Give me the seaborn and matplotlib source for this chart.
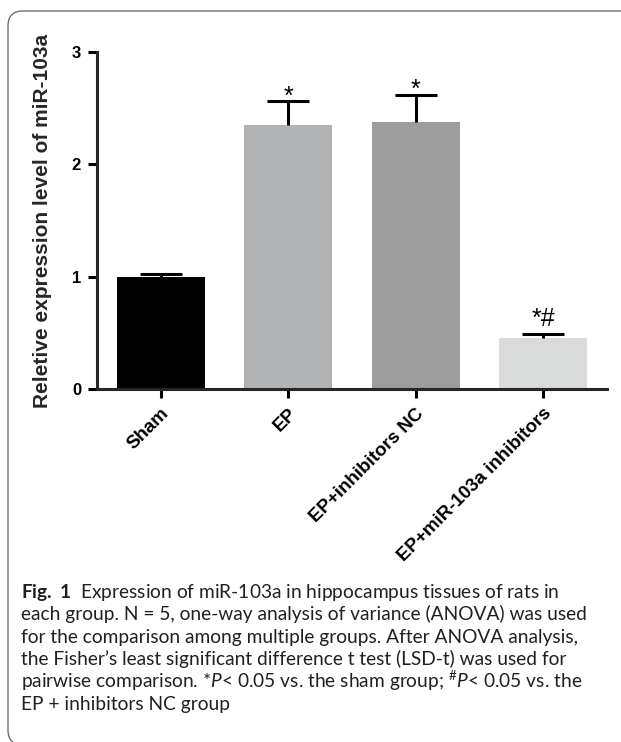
import numpy as np
import matplotlib
matplotlib.use("Agg")
import matplotlib.pyplot as plt
from matplotlib.patches import FancyBboxPatch
import seaborn as sns

# data
groups = ["Sham", "EP", "EP+inhibitors NC", "EP+miR-103a inhibitors"]
means = [1.00, 2.35, 2.38, 0.45]
sems = [0.02, 0.21, 0.24, 0.04]
marks = ["", "*", "*", "*#"]
colors = ["#000000", "#b2b3b4", "#9d9d9d", "#d9dbda"]

caption_lines = [
    r"$\mathbf{Fig.\ 1}$  Expression of miR-103a in hippocampus tissues of rats in",
    "each group. N = 5, one-way analysis of variance (ANOVA) was used",
    "for the comparison among multiple groups. After ANOVA analysis,",
    "the Fisher\u2019s least significant difference t test (LSD-t) was used for",
    r"pairwise comparison. *$\mathit{P}$< 0.05 vs. the sham group; $^{\#}\mathit{P}$< 0.05 vs. the",
    "EP + inhibitors NC group",
]

sns.set_style("ticks")
plt.rcParams["font.family"] = ["Liberation Sans", "DejaVu Sans"]
plt.rcParams["mathtext.fontset"] = "custom"
plt.rcParams["mathtext.rm"] = "Lato"
plt.rcParams["mathtext.it"] = "Lato:italic"
plt.rcParams["mathtext.bf"] = "Lato:bold"
plt.rcParams["mathtext.default"] = "regular"

fig = plt.figure(figsize=(6.21, 7.42), dpi=100)
W, H = 621, 742
ax = fig.add_axes([97 / W, 1 - 389 / H, 510 / W, 337 / H])

sns.barplot(x=groups, y=means, hue=groups, palette=colors, legend=False,
            saturation=1, width=0.69, errorbar=None, ax=ax)
for p in ax.patches:
    p.set_edgecolor("none")

# upper-only error bars (SEM)
x = np.arange(len(groups))
eb = ax.errorbar(x, means, yerr=[np.zeros(len(means)), sems], fmt="none",
                 ecolor="black", elinewidth=2.2, capsize=15, capthick=2.2,
                 zorder=3)
eb[1][0].set_visible(False)

# significance marks above the caps
for xi, m, s, t in zip(x, means, sems, marks):
    if t:
        off = 0.075 if "#" in t else -0.02
        ax.text(xi, m + s + off, t, ha="center", va="baseline",
                fontsize=18, family=["Liberation Sans"], color="black")

ax.set_xlim(-0.5, 3.5)
ax.set_ylim(0, 3)
ax.set_yticks([0, 1, 2, 3])
sns.despine(ax=ax)
for sp in ["left", "bottom"]:
    ax.spines[sp].set_linewidth(2.2)
ax.tick_params(axis="both", width=2.2, length=6.5, pad=5, colors="black",
               labelsize=12)
for lab in ax.get_yticklabels():
    lab.set_fontweight("bold")
ax.set_xticks(x)
ax.set_xticklabels(groups, rotation=45, ha="right", rotation_mode="anchor",
                   fontweight="bold", fontsize=13.5)
ax.set_xlabel("")
ax.set_ylabel("Reletive expression level of miR-103a", fontsize=15,
              fontweight="bold")
ax.yaxis.set_label_coords(-0.088, 0.5)

# caption
for i, line in enumerate(caption_lines):
    fig.text(21 / W, 1 - (598 + i * 22.4) / H, line, ha="left", va="baseline",
             fontsize=13.8, family=["Lato", "DejaVu Sans"], color="#231f20")

# rounded frame around the figure panel
frame = FancyBboxPatch((0.08, -0.03), 6.5, 7.42 - 0.11 + 0.03,
                       boxstyle="round,pad=0,rounding_size=0.15",
                       transform=fig.dpi_scale_trans, fill=False,
                       edgecolor="#707070", linewidth=1.0)
fig.patches.append(frame)

fig.savefig("out.png", dpi=100)
